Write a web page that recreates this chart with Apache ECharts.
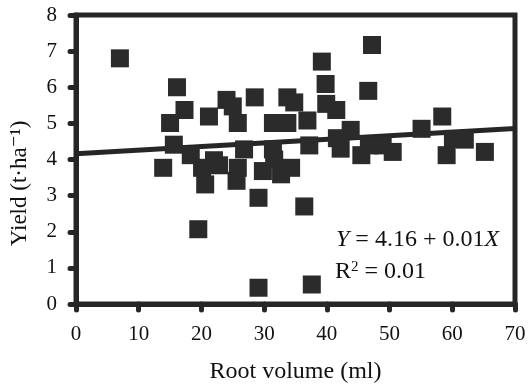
<!DOCTYPE html>
<html>
<head>
<meta charset="utf-8">
<script src="https://cdn.jsdelivr.net/npm/echarts@6/dist/echarts.min.js"></script>
<style>
  html, body { margin: 0; padding: 0; background: #fff; }
  #chart { width: 532px; height: 389px; }
</style>
</head>
<body>
<div id="chart"></div>
<script>
// root volume (ml) vs yield (t/ha)
const rootVolume = [7.0, 16.1, 17.3, 15.0, 24.0, 25.0, 21.2, 25.8, 28.5, 31.4, 33.7, 33.7,
  47.2, 39.2, 39.8, 46.6, 34.8, 39.9, 41.5, 58.4, 36.9, 55.1, 60.1, 65.2, 59.1, 62.0, 50.5,
  13.9, 18.3, 20.1, 20.6, 22.8, 25.8, 25.6, 26.8, 29.8, 31.4, 29.1, 15.6, 37.2, 42.2, 43.8,
  45.5, 46.7, 48.9, 34.3, 32.7, 31.6, 36.4, 37.6, 19.5, 29.1, 41.6, 22.0]
const yieldVals = [6.80, 6.00, 5.37, 5.01, 5.65, 5.47, 5.19, 5.01, 5.72, 5.01, 5.72, 5.01,
  7.17, 6.71, 6.09, 5.90, 5.58, 5.54, 5.37, 5.19, 5.08, 4.85, 4.57, 4.21, 4.12, 4.55, 4.21,
  3.77, 4.12, 3.77, 3.31, 3.84, 3.77, 3.41, 4.28, 3.68, 4.28, 2.94, 4.41, 4.39, 4.30, 4.82,
  4.12, 4.39, 4.39, 3.77, 3.59, 4.00, 2.70, 0.54, 2.07, 0.45, 4.59, 3.98]
// fitted line Y = 4.16 + 0.01X
const fitA = 4.16
const fitB = 0.01
const fitX = [0, 70]

const points = rootVolume.map((x, i) => [x, yieldVals[i]])
const fitLine = fitX.map(x => [x, fitA + fitB * x])

const ink = '#262626'
const font = '"Liberation Serif", "DejaVu Serif", serif'

const chart = echarts.init(document.getElementById('chart'), null, { renderer: 'canvas' })
const option = {
  animation: false,
  grid: {
    left: 76, right: 17, top: 15, bottom: 82,
    show: true, borderWidth: 5, borderColor: ink
  },
  xAxis: {
    type: 'value', min: 0, max: 70, interval: 10,
    name: 'Root volume (ml)', nameLocation: 'middle', nameGap: 56,
    nameTextStyle: { fontFamily: font, fontSize: 24, color: '#111' },
    axisLine: { show: true, lineStyle: { color: ink, width: 5 } },
    axisTick: { show: true, length: 6, lineStyle: { color: ink, width: 5, cap: 'round' } },
    axisLabel: { fontFamily: font, fontSize: 21, color: '#111', margin: 20 },
    splitLine: { show: false }
  },
  yAxis: {
    type: 'value', min: 0, max: 8, interval: 1,
    name: 'Yield (t·ha⁻¹)', nameLocation: 'middle', nameGap: 45,
    nameTextStyle: { fontFamily: font, fontSize: 23, color: '#111', padding: [0, 48, 0, 0] },
    axisLine: { show: true, lineStyle: { color: ink, width: 5 } },
    axisTick: { show: true, length: 6, lineStyle: { color: ink, width: 5, cap: 'round' } },
    axisLabel: { fontFamily: font, fontSize: 21, color: '#111', margin: 19 },
    splitLine: { show: false }
  },
  series: [
    {
      type: 'line',
      data: fitLine,
      symbol: 'none',
      lineStyle: { color: ink, width: 5 },
      z: 3
    },
    {
      type: 'scatter',
      data: points,
      symbol: 'rect',
      symbolSize: 18,
      itemStyle: { color: '#2b2b2b', opacity: 1 },
      z: 4
    }
  ],
  graphic: [
    {
      type: 'text', left: 336, top: 228, z: 10,
      style: {
        text: '{i|Y} = 4.16 + 0.01{i|X}',
        fontFamily: font, fontSize: 24, fill: '#111',
        rich: { i: { fontStyle: 'italic', fontFamily: font, fontSize: 24, fill: '#111' } }
      }
    },
    {
      type: 'text', left: 335, top: 260, z: 10,
      style: {
        text: 'R{s|2} = 0.01',
        fontFamily: font, fontSize: 24, fill: '#111',
        rich: { s: { fontFamily: font, fontSize: 15, verticalAlign: 'top', padding: [0, 0, 9, 0], fill: '#111' } }
      }
    }
  ]
}
chart.setOption(option)
window.addEventListener('resize', chart.resize)
</script>
</body>
</html>
